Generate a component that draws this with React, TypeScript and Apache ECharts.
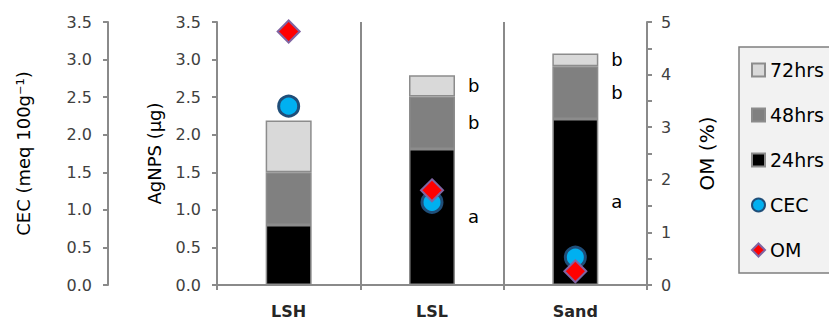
import React, { useEffect, useRef } from "react";
import * as echarts from "echarts";

const categories = ["LSH", "LSL", "Sand"];
const hrs24 = [0.8, 1.81, 2.21];
const hrs48 = [0.7, 0.7, 0.7];
const hrs72 = [0.69, 0.28, 0.17];
const cec = [2.38, 1.1, 0.37];
const om = [4.82, 1.8, 0.26];
const letters24 = ["", "a", "a"];
const letters48 = ["", "b", "b"];
const letters72 = ["", "b", "b"];
const legendNames = ["72hrs", "48hrs", "24hrs", "CEC", "OM"];

const FONT = "DejaVu Sans";
const AXIS_GRAY = "#8a8a8a";

export default function App() {
  const ref = useRef<HTMLDivElement>(null);
  useEffect(() => {
    if (!ref.current) return;
    const chart = echarts.init(ref.current, undefined, { renderer: "svg" });
    const barBorder = { borderColor: "#8c8c8c", borderWidth: 1.5 };
    const letterLabel = (letters: string[]) => ({
      show: true,
      position: "right" as const,
      distance: 13,
      fontFamily: FONT,
      fontSize: 18,
      color: "#000",
      formatter: (p: any) => letters[p.dataIndex],
    });
    const leftAxisCommon = {
      type: "value" as const,
      min: 0,
      max: 3.5,
      interval: 0.5,
      position: "left" as const,
      nameLocation: "middle" as const,
      nameTextStyle: { fontFamily: FONT, fontSize: 18, color: "#000" },
      axisLine: { show: true, lineStyle: { color: AXIS_GRAY, width: 2 } },
      axisTick: { show: true, length: 5, lineStyle: { color: AXIS_GRAY, width: 2 } },
      axisLabel: {
        fontFamily: FONT,
        fontSize: 16,
        color: "#404040",
        margin: 16,
        formatter: (v: number) => v.toFixed(1),
      },
      splitLine: { show: false },
    };
    chart.setOption({
      animation: false,
      backgroundColor: "#fff",
      grid: { left: 217, right: 182, top: 22, bottom: 39 },
      xAxis: {
        type: "category",
        data: categories,
        boundaryGap: true,
        axisLine: { show: true, lineStyle: { color: AXIS_GRAY, width: 2 } },
        axisTick: { show: true, length: 5, lineStyle: { color: AXIS_GRAY, width: 2 } },
        axisLabel: {
          fontFamily: FONT,
          fontSize: 16,
          fontWeight: "bold",
          color: "#262626",
          margin: 18,
        },
        splitLine: { show: true, lineStyle: { color: AXIS_GRAY, width: 2 } },
      },
      yAxis: [
        { ...leftAxisCommon, name: "AgNPS (µg)", nameGap: 54 },
        { ...leftAxisCommon, name: "CEC (meq 100g⁻¹)", nameGap: 76, offset: 109 },
        {
          type: "value",
          min: 0,
          max: 5,
          interval: 1,
          position: "right",
          name: "OM (%)",
          nameLocation: "middle",
          nameGap: 50,
          nameRotate: 90,
          nameTextStyle: { fontFamily: FONT, fontSize: 20, color: "#000" },
          axisLine: { show: true, lineStyle: { color: AXIS_GRAY, width: 2 } },
          axisTick: { show: true, length: 5, lineStyle: { color: AXIS_GRAY, width: 2 } },
          minorTick: { show: true, splitNumber: 2, length: 5, lineStyle: { color: AXIS_GRAY, width: 2 } },
          axisLabel: { fontFamily: FONT, fontSize: 16, color: "#404040", margin: 14 },
          splitLine: { show: false },
        },
      ],
      legend: {
        orient: "vertical",
        left: 739,
        top: 47,
        padding: [13, 40, 13, 12],
        itemGap: 25,
        itemWidth: 13,
        itemHeight: 13,
        backgroundColor: "#f2f2f2",
        borderColor: "#7f7f7f",
        borderWidth: 1.5,
        textStyle: { fontFamily: FONT, fontSize: 19, color: "#000", lineHeight: 20 },
        data: [
          { name: legendNames[0], icon: "rect" },
          { name: legendNames[1], icon: "rect" },
          { name: legendNames[2], icon: "rect" },
          { name: legendNames[3], icon: "circle" },
          { name: legendNames[4], icon: "diamond" },
        ],
      },
      series: [
        {
          name: "24hrs",
          type: "bar",
          stack: "ag",
          barWidth: 46,
          data: hrs24,
          itemStyle: { color: "#000", ...barBorder },
          label: letterLabel(letters24),
        },
        {
          name: "48hrs",
          type: "bar",
          stack: "ag",
          barWidth: 46,
          data: hrs48,
          itemStyle: { color: "#808080", ...barBorder },
          label: letterLabel(letters48),
        },
        {
          name: "72hrs",
          type: "bar",
          stack: "ag",
          barWidth: 46,
          data: hrs72,
          itemStyle: { color: "#d9d9d9", ...barBorder },
          label: letterLabel(letters72),
        },
        {
          name: "CEC",
          type: "scatter",
          yAxisIndex: 1,
          data: cec,
          symbol: "circle",
          symbolSize: 20,
          itemStyle: { color: "#00b0f0", borderColor: "#1f4e79", borderWidth: 3, opacity: 1 },
          z: 5,
        },
        {
          name: "OM",
          type: "scatter",
          yAxisIndex: 2,
          data: om,
          symbol: "diamond",
          symbolSize: 22,
          itemStyle: { color: "#ff0000", borderColor: "#8064a2", borderWidth: 2, opacity: 1 },
          z: 6,
        },
      ],
    });
    return () => chart.dispose();
  }, []);
  return (
    <div
      ref={ref}
      style={{ position: "fixed", left: 0, top: 0, width: 829, height: 324 }}
    />
  );
}
